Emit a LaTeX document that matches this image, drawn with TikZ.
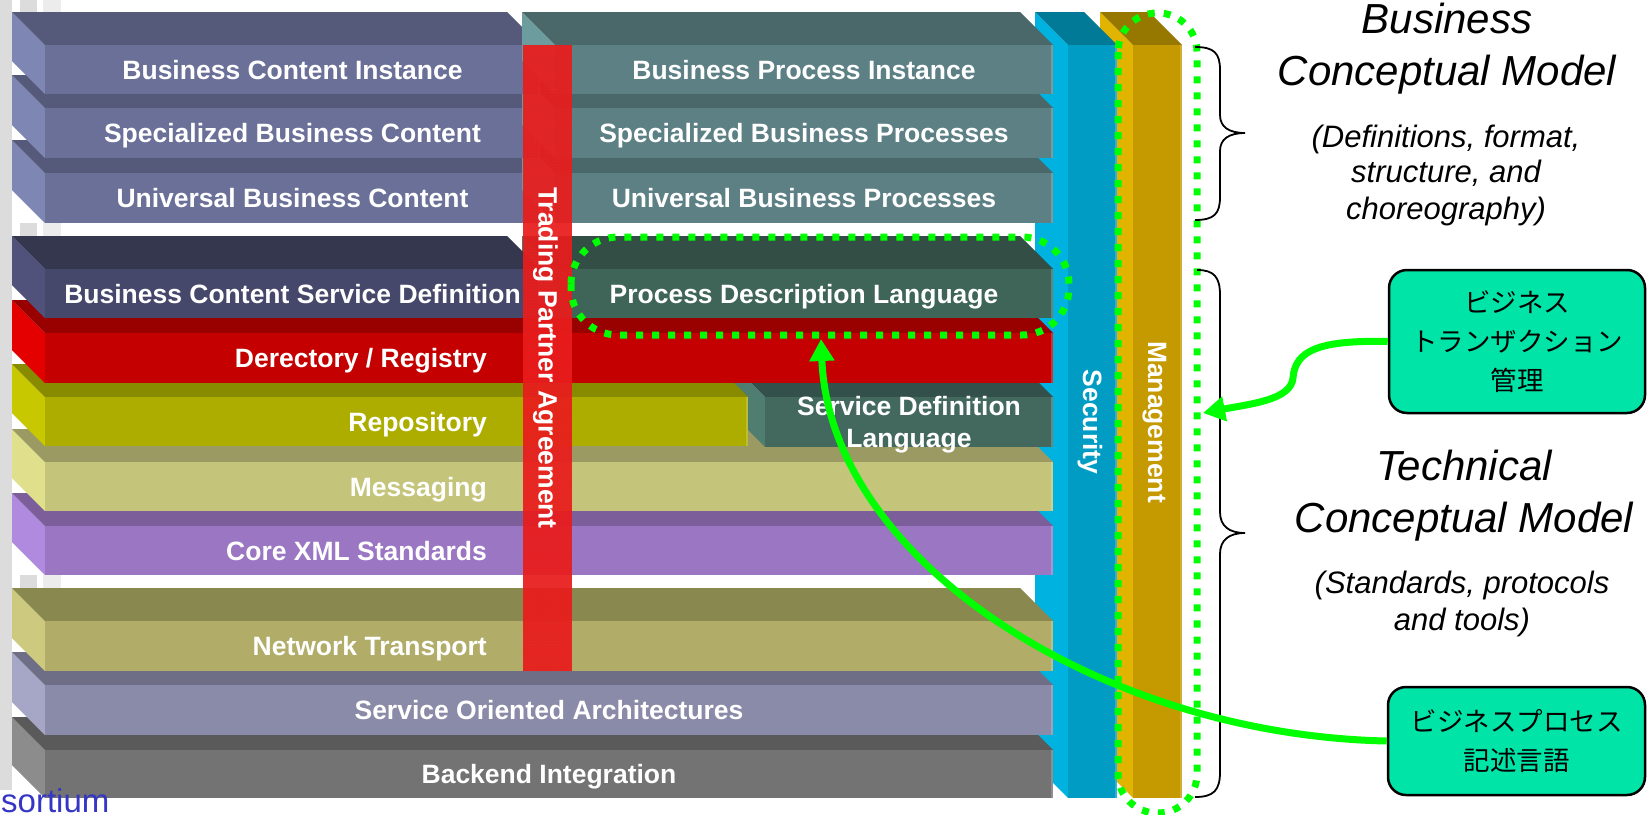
\documentclass[tikz,border=0pt]{standalone}
\usepackage{fontspec}
\setmainfont{Liberation Sans}
\newfontfamily\jpfont{Noto Sans CJK JP}
\usetikzlibrary{arrows.meta,patterns}

% face colours of the layer slabs: T = top, F = front, L = left side
\definecolor{bcT}{HTML}{555A7A}\definecolor{bcF}{HTML}{6B7098}\definecolor{bcL}{HTML}{7E86B4}
\definecolor{bpT}{HTML}{4A6769}\definecolor{bpF}{HTML}{5D8084}\definecolor{bpL}{HTML}{6D9C9E}
\definecolor{bsT}{HTML}{35374F}\definecolor{bsF}{HTML}{45476B}\definecolor{bsL}{HTML}{50527C}
\definecolor{pdT}{HTML}{324E45}\definecolor{pdF}{HTML}{3E6557}\definecolor{pdL}{HTML}{4A7868}
\definecolor{rdT}{HTML}{990000}\definecolor{rdF}{HTML}{C40000}\definecolor{rdL}{HTML}{E40000}
\definecolor{rpT}{HTML}{888A00}\definecolor{rpF}{HTML}{ADAD00}\definecolor{rpL}{HTML}{C8C800}
\definecolor{sdT}{HTML}{33504A}\definecolor{sdF}{HTML}{43695E}\definecolor{sdL}{HTML}{4F7D70}
\definecolor{msT}{HTML}{9B9A62}\definecolor{msF}{HTML}{C4C47A}\definecolor{msL}{HTML}{E0E08C}
\definecolor{cxT}{HTML}{7B5E9A}\definecolor{cxF}{HTML}{9B77C3}\definecolor{cxL}{HTML}{B08ADF}
\definecolor{ntT}{HTML}{89884F}\definecolor{ntF}{HTML}{B1AD69}\definecolor{ntL}{HTML}{CDCA80}
\definecolor{soT}{HTML}{6E6E86}\definecolor{soF}{HTML}{8A8BA8}\definecolor{soL}{HTML}{A6A6C6}
\definecolor{beT}{HTML}{5A5A5A}\definecolor{beF}{HTML}{737373}\definecolor{beL}{HTML}{8C8C8C}
\definecolor{scT}{HTML}{007A96}\definecolor{scF}{HTML}{009CC4}\definecolor{scL}{HTML}{00B2DF}
\definecolor{mgT}{HTML}{967800}\definecolor{mgF}{HTML}{C49A00}\definecolor{mgL}{HTML}{E0B400}
\definecolor{tpa}{HTML}{EC1A1A}
\definecolor{neon}{HTML}{00FF00}
\definecolor{mint}{HTML}{00E4A8}
\definecolor{stripeA}{HTML}{DCDCDC}
\definecolor{stripeB}{HTML}{ECECEC}
\definecolor{logoblue}{HTML}{3636C6}

% \slabbox{back-left x}{back-top y}{back-right x}{front height}{colour prefix}
\newcommand\slabbox[5]{%
  \fill[#5L] (#1,#2) -- (#1+33,#2+33) -- (#1+33,#2+33+#4) -- (#1,#2+#4) -- cycle;
  \fill[#5T] (#1,#2) -- (#3,#2) -- (#3+33,#2+33) -- (#1+33,#2+33) -- cycle;
  \fill[#5F] (#1+33,#2+33) rectangle (#3+33,#2+33+#4);
  \fill[#5F!80!white] (#3+30.5,#2+33) rectangle (#3+33,#2+33+#4);
}

\begin{document}
\begin{tikzpicture}[x=1pt,y=-1pt,
  lbl/.style={text=white,font=\bfseries\fontsize{26.5}{32}\selectfont,inner sep=0pt,anchor=base},
  title/.style={font=\itshape\fontsize{42}{50}\selectfont,inner sep=0pt,anchor=base},
  subtitle/.style={font=\itshape\fontsize{31}{36}\selectfont,inner sep=0pt,anchor=base},
  gdot/.style={draw=neon,line width=7pt,dash pattern=on 7pt off 9pt},
  curly/.style={draw=black,line width=1.8pt},
  jpbox/.style={draw=black,line width=2.5pt,fill=mint,rounded corners=18pt,align=center,
    font=\jpfont\fontsize{26.5}{39}\selectfont,inner sep=0pt},
  garrow/.style={draw=neon,line width=7pt,-{Triangle[length=22pt,width=24pt]}}]
\useasboundingbox (0,0) rectangle (1651,814);
\clip (0,0) rectangle (1651,814);

% background stripes at the left margin
\fill[stripeA] (0,0) rectangle (12,790);
\foreach \ya/\yb in {0/12, 223/236, 575/588}{
  \fill[stripeA] (20,\ya) rectangle (37,\yb);
  \fill[stripeB] (43,\ya) rectangle (61,\yb);
}

% vertical columns: management and security
\slabbox{1100}{12}{1149}{753}{mg}
\slabbox{1035}{12}{1084}{753}{sc}

% technical layers, drawn from the bottom up
\slabbox{12}{717}{1020}{48}{be}
\slabbox{12}{652}{1020}{50}{so}
\slabbox{12}{588}{1020}{50}{nt}
\slabbox{12}{493}{1020}{49}{cx}
\slabbox{12}{429}{1020}{49}{ms}
\slabbox{732}{364}{1020}{50}{sd}
\slabbox{12}{364}{715}{49}{rp}
\slabbox{12}{300}{1020}{50}{rd}
\slabbox{522}{236}{1020}{49}{pd}
\slabbox{12}{236}{507}{49}{bs}

% business layers
\slabbox{12}{140}{507}{50}{bc}
\slabbox{522}{140}{1020}{50}{bp}
\slabbox{12}{75}{507}{50}{bc}
\slabbox{522}{75}{1020}{50}{bp}
\slabbox{12}{12}{507}{49}{bc}
\slabbox{522}{12}{1020}{49}{bp}

% trading partner agreement band, with a speckled finish
\fill[tpa,opacity=0.93] (523,45) rectangle (572,671);
\fill[pattern=crosshatch dots,pattern color=tpa!55!gray,opacity=0.35] (523,45) rectangle (572,671);

% layer labels
\node[lbl] (tBCI) at (292.5,79) {Business Content Instance};
\node[lbl] (tSBC) at (292.5,142.5) {Specialized Business Content};
\node[lbl] (tUBC) at (292.5,207.5) {Universal Business Content};
\node[lbl] (tBPI) at (804,79) {Business Process Instance};
\node[lbl] (tSBP) at (804,142.5) {Specialized Business Processes};
\node[lbl] (tUBP) at (804,207.5) {Universal Business Processes};
\node[lbl] (tBCSD) at (292.5,303) {Business Content Service Definition};
\node[lbl] (tPDL) at (804,303) {Process Description Language};
\node[lbl,anchor=base east] (tDR) at (487,367.5) {Derectory / Registry};
\node[lbl,anchor=base east] (tRep) at (487,431) {Repository};
\node[lbl] (tSDL1) at (909,415) {Service Definition};
\node[lbl] (tSDL2) at (909,447) {Language};
\node[lbl,anchor=base east] (tMsg) at (487,496) {Messaging};
\node[lbl,anchor=base east] (tXML) at (487,560) {Core XML Standards};
\node[lbl,anchor=base east] (tNT) at (487,655.5) {Network Transport};
\node[lbl] (tSOA) at (549,719.5) {Service Oriented Architectures};
\node[lbl] (tBE) at (549,783.5) {Backend Integration};
\node[lbl,rotate=-90] (tTPA) at (538.5,358) {Trading Partner Agreement};
\node[lbl,rotate=-90] (tSec) at (1083,422) {Security};
\node[lbl,rotate=-90] (tMgt) at (1148,422) {Management};

% dotted highlight rings
\draw[gdot,rounded corners=47pt] (571,237) rectangle (1069,335);
\draw[gdot,rounded corners=39pt] (1118,13) rectangle (1197,813);
\coordinate (pdltip) at (821,339);
\coordinate (mgtip) at (1203,413);

% braces
\draw[curly] (1195,47) .. controls (1214,47) and (1220,53) .. (1220,70) -- (1220,115)
  .. controls (1220,127) and (1229,133) .. (1245,133)
  .. controls (1229,133) and (1220,139) .. (1220,151) -- (1220,197)
  .. controls (1220,214) and (1214,220) .. (1195,220);
\draw[curly] (1197,270) .. controls (1214,270) and (1220,277) .. (1220,295) -- (1220,512)
  .. controls (1220,526) and (1229,533) .. (1245,533)
  .. controls (1229,533) and (1220,540) .. (1220,554) -- (1220,772)
  .. controls (1220,790) and (1214,797) .. (1195,797);

% model captions
\node[title] (bcm1) at (1447,33) {Business};
\node[title] (bcm2) at (1447,85) {Conceptual Model};
\node[subtitle] (bcm3) at (1446,147) {(Definitions, format,};
\node[subtitle] (bcm4) at (1446,182) {structure, and};
\node[subtitle] (bcm5) at (1446,219) {choreography)};
\node[title] (tcm1) at (1464,480) {Technical};
\node[title] (tcm2) at (1464,532) {Conceptual Model};
\node[subtitle] (tcm3) at (1462,593) {(Standards, protocols};
\node[subtitle] (tcm4) at (1462,630) {and tools)};

% callout boxes
\node[jpbox,minimum width=256pt,minimum height=143pt] (jbox1) at (1517,341.5) {ビジネス\\トランザクション\\管理};
\node[jpbox,minimum width=257pt,minimum height=108pt] (jbox2) at (1516.5,741) {ビジネスプロセス\\記述言語};

% callout arrows
\draw[garrow] (jbox1.west) .. controls (1320,340) and (1295,350) .. (1293,378)
  .. controls (1291,400) and (1250,404) .. (mgtip);
\draw[garrow] (jbox2.west) .. controls (1100,735) and (830,560) .. (pdltip);

% footer fragment
\node[anchor=base west,inner sep=0pt,text=logoblue,font=\fontsize{33}{33}\selectfont] (logo) at (1,812) {sortium};
\end{tikzpicture}
\end{document}
